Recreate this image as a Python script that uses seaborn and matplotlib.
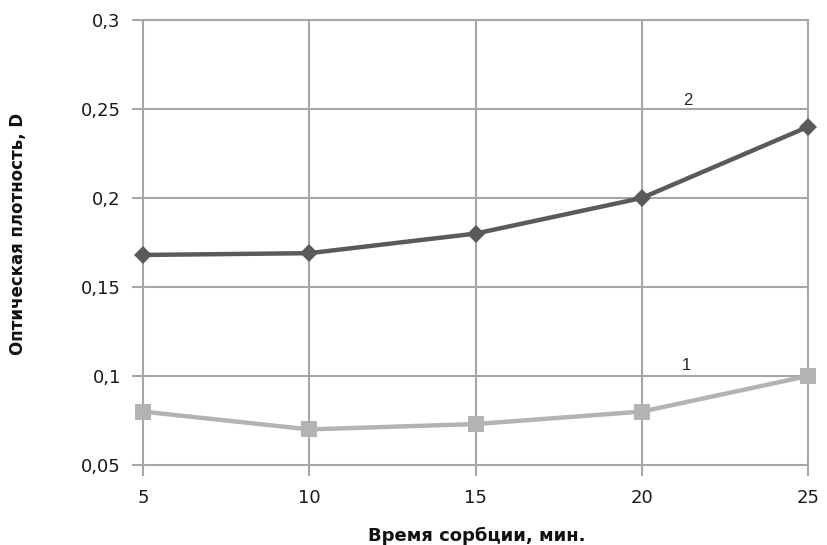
import matplotlib
matplotlib.use("Agg")
import matplotlib.pyplot as plt
import pandas as pd
import seaborn as sns

sns.set_style("whitegrid")
plt.rcParams['font.family'] = ['DejaVu Sans']

# data
time_min = [5, 10, 15, 20, 25]
series_1 = [0.080, 0.070, 0.073, 0.080, 0.100]
series_2 = [0.168, 0.169, 0.180, 0.200, 0.240]
y_ticks = [0.05, 0.1, 0.15, 0.2, 0.25, 0.3]
y_tick_labels = ['0,05', '0,1', '0,15', '0,2', '0,25', '0,3']
x_ticks = [5, 10, 15, 20, 25]

grid_color = '#a6a6a6'

fig = plt.figure(figsize=(8.27, 5.45), dpi=100)
ax = fig.add_axes([143 / 827, 1 - 465 / 545, (808 - 143) / 827, (465 - 20) / 545])

df1 = pd.DataFrame({'time': time_min, 'value': series_1})
df2 = pd.DataFrame({'time': time_min, 'value': series_2})

sns.lineplot(data=df1, x='time', y='value', ax=ax, color='#b3b3b3', linewidth=3.2,
             marker='s', markersize=11, markeredgewidth=0, clip_on=False, zorder=3)
sns.lineplot(data=df2, x='time', y='value', ax=ax, color='#5a5a5a', linewidth=3.2,
             marker='D', markersize=9, markeredgewidth=0, clip_on=False, zorder=4)

ax.set_xlim(5, 25)
ax.set_ylim(0.05, 0.3)
ax.set_xticks(x_ticks)
ax.set_yticks(y_ticks)
ax.set_yticklabels(y_tick_labels)

ax.grid(True, color=grid_color, linewidth=1.5)
for gl in ax.get_xgridlines() + ax.get_ygridlines():
    gl.set_clip_on(False)
for s in ax.spines.values():
    s.set_visible(False)
ax.tick_params(axis='both', which='major', length=8, width=1.5, color=grid_color,
               labelsize=13, labelcolor='#1a1a1a', left=True, bottom=True)
ax.tick_params(axis='y', pad=8)
ax.tick_params(axis='x', pad=9)

ax.set_xlabel('Время сорбции, мин.', fontsize=13, fontweight='bold', color='#111111')
ax.set_ylabel('Оптическая плотность, D', fontsize=12, fontweight='bold', color='#111111')
ax.xaxis.set_label_coords(0.502, -0.14)
ax.yaxis.set_label_coords(-0.174, 0.52)

ax.text(21.33, 0.106, '1', fontsize=12, family='Liberation Sans', ha='center', va='center')
ax.text(21.4, 0.2545, '2', fontsize=12, family='Liberation Sans', ha='center', va='center')

fig.savefig('out.png', dpi=100)
